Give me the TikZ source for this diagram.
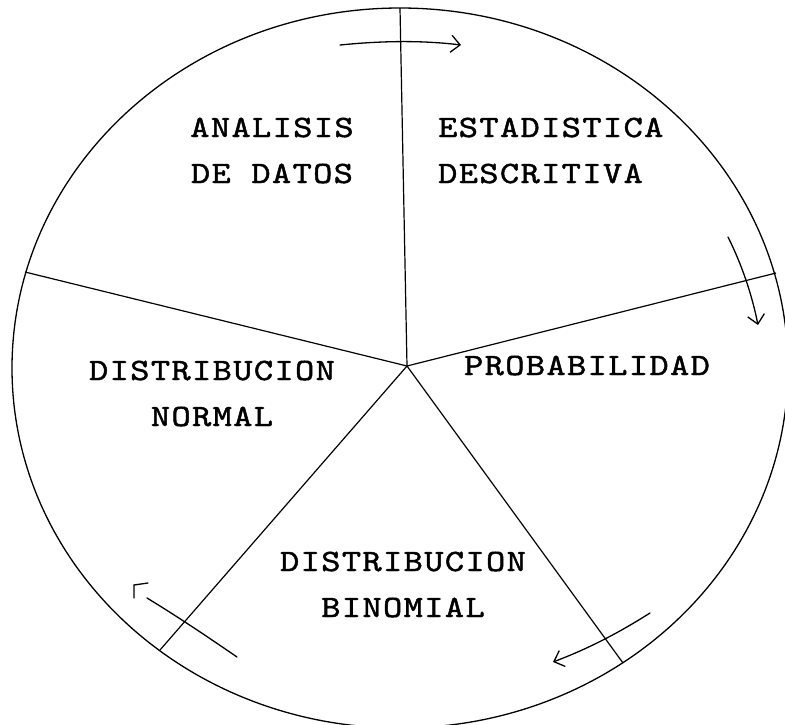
\documentclass[tikz,border=0pt]{standalone}
\usepackage{fontspec}
\usetikzlibrary{arrows.meta}
\newfontfamily\tw{lmmono10-regular.otf}[FakeStretch=1.18,LetterSpace=4.5,FakeBold=1.5]
\begin{document}
\begin{tikzpicture}[x=1pt,y=-1pt,
  rim/.style={line width=1.3pt},
  spoke/.style={line width=1.2pt},
  stroke/.style={line width=1.3pt, line cap=round},
  arr/.style={stroke, -{Straight Barb[length=9pt,width=17pt,line width=1.3pt]}},
  lbl/.style={font=\tw\fontsize{31}{46}\selectfont, inner sep=0pt}]
\useasboundingbox (0,0) rectangle (785,724);
\fill[white] (0,0) rectangle (785,724);
% rim
\coordinate (o) at (400,368);
\draw[rim] (o) ellipse [x radius=388, y radius=360];
% spokes
\coordinate (c) at (407,366);
\coordinate (e1) at (400,8);
\coordinate (e2) at (776,273);
\coordinate (e3) at (623,663);
\coordinate (e4) at (160,650);
\coordinate (e5) at (25,272);
\foreach \e in {e1,e2,e3,e4,e5} \draw[spoke] (c) -- (\e);
% labels (base anchor = baseline of the last line)
\node[lbl, anchor=base, align=center] (ad) at (272,183) {ANALISIS\\DE DATOS};
\node[lbl, anchor=base west, align=left] (ed) at (438,183) {ESTADISTICA\\DESCRITIVA};
\node[lbl, anchor=base, align=center] (dn) at (212,426) {DISTRIBUCION\\NORMAL};
\node[lbl, anchor=base] (pr) at (587,375) {PROBABILIDAD};
\node[lbl, anchor=base, align=center] (db) at (403,617) {DISTRIBUCION\\BINOMIAL};
% arrows
\coordinate (a1s) at (340,45); \coordinate (a1e) at (461,45);
\draw[arr] (a1s) .. controls (380,41) and (420,40) .. (a1e);
\coordinate (a2s) at (728,237); \coordinate (a2e) at (758,325);
\draw[arr] (a2s) .. controls (742,265) and (752,295) .. (a2e);
\coordinate (a3s) at (650,613); \coordinate (a3e) at (553,662);
\draw[arr] (a3s) .. controls (620,632) and (590,648) .. (a3e);
\coordinate (a4s) at (237,657); \coordinate (a4e) at (147,598);
\draw[stroke] (a4s) .. controls (205,635) and (175,615) .. (a4e);
\draw[stroke] (134,598) -- (134,585) -- (148,583);
\end{tikzpicture}
\end{document}
